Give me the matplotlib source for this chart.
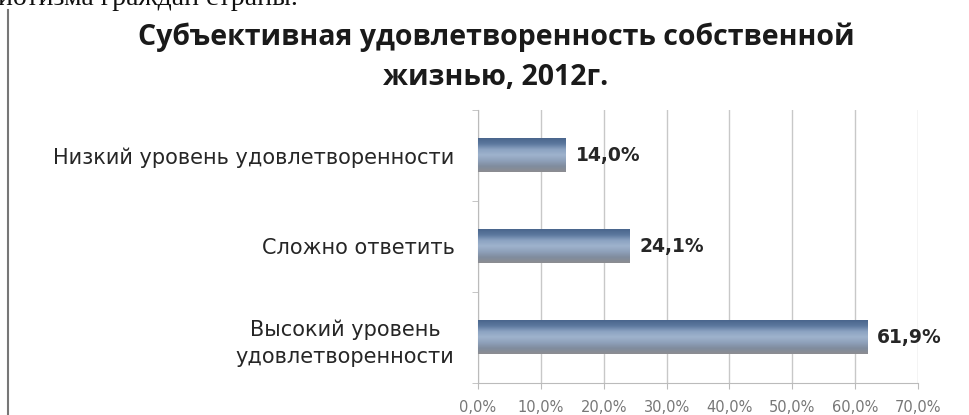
import numpy as np
import matplotlib.pyplot as plt
from matplotlib.lines import Line2D

categories = ["Высокий уровень\nудовлетворенности", "Сложно ответить", "Низкий уровень удовлетворенности"]
values = [61.9, 24.1, 14.0]
value_labels = ["61,9%", "24,1%", "14,0%"]
xticks = [0, 10, 20, 30, 40, 50, 60, 70]
xtick_labels = ["0,0%", "10,0%", "20,0%", "30,0%", "40,0%", "50,0%", "60,0%", "70,0%"]
title = "Субъективная удовлетворенность собственной\nжизнью, 2012г."

fig = plt.figure(figsize=(9.7, 4.15), dpi=100)
ax = fig.add_axes([478 / 970, 1 - 383 / 415, 440 / 970, 273 / 415])

y = np.arange(len(categories))
bars = ax.barh(y, values, height=0.37, color="none", edgecolor="none", zorder=3)

# gradient fill for bars (dark top, light middle, gray bottom)
grad_colors = np.array([
    [0.29, 0.40, 0.55],
    [0.36, 0.47, 0.62],
    [0.55, 0.64, 0.76],
    [0.62, 0.70, 0.80],
    [0.56, 0.63, 0.73],
    [0.50, 0.55, 0.62],
    [0.55, 0.55, 0.57],
])
pos = np.linspace(0, 1, len(grad_colors))
t = np.linspace(0, 1, 64)
img = np.stack([np.interp(t, pos, grad_colors[:, c]) for c in range(3)], axis=1)
img = img[:, None, :]
for b in bars:
    x0, y0 = b.get_x(), b.get_y()
    w, h = b.get_width(), b.get_height()
    ax.imshow(img, extent=(x0, x0 + w, y0, y0 + h), aspect="auto", origin="upper", zorder=3)

for yi, v, lab in zip(y, values, value_labels):
    ax.text(v + 1.6, yi, lab, va="center", ha="left", fontsize=13.5, fontweight="bold",
            color="#262626", family="DejaVu Sans")

ax.set_xlim(0, 70)
ax.set_ylim(-0.5, len(categories) - 0.5)
ax.set_xticks(xticks)
ax.set_xticklabels(xtick_labels, fontsize=10.5, color="#777777")
ax.set_yticks(y)
ax.set_yticklabels(categories, fontsize=15, color="#262626", ha="right",
                   multialignment="center", linespacing=1.45)
ax.tick_params(axis="y", length=0, pad=17)
ax.set_yticks([-0.5, 0.5, 1.5, 2.5], minor=True)
ax.tick_params(axis="y", which="minor", length=4, color="#bbbbbb")
ax.tick_params(axis="x", length=4, color="#bbbbbb", pad=8)
ax.grid(axis="x", color="#c8c8c8", linewidth=1, zorder=0)
for s in ["top", "right"]:
    ax.spines[s].set_visible(False)
ax.spines["left"].set_color("#bbbbbb")
ax.spines["bottom"].set_color("#bbbbbb")

fig.text(496 / 970, 1 - 57 / 415, title, ha="center", va="center", fontsize=20.5,
         fontweight="bold", family="Open Sans", color="#1a1a1a", linespacing=1.5)

# cut-off text from the document above the chart
fig.text(298 / 970, 1 - 5 / 415, "патриотизма граждан страны.", ha="right", va="baseline",
         fontsize=20, family="Liberation Serif", color="#111111")

fig.add_artist(Line2D([8.5 / 970, 8.5 / 970], [0, 1 - 10 / 415], transform=fig.transFigure,
                      color="#777777", linewidth=1.5))

fig.savefig("out.png", dpi=100, facecolor="white")
